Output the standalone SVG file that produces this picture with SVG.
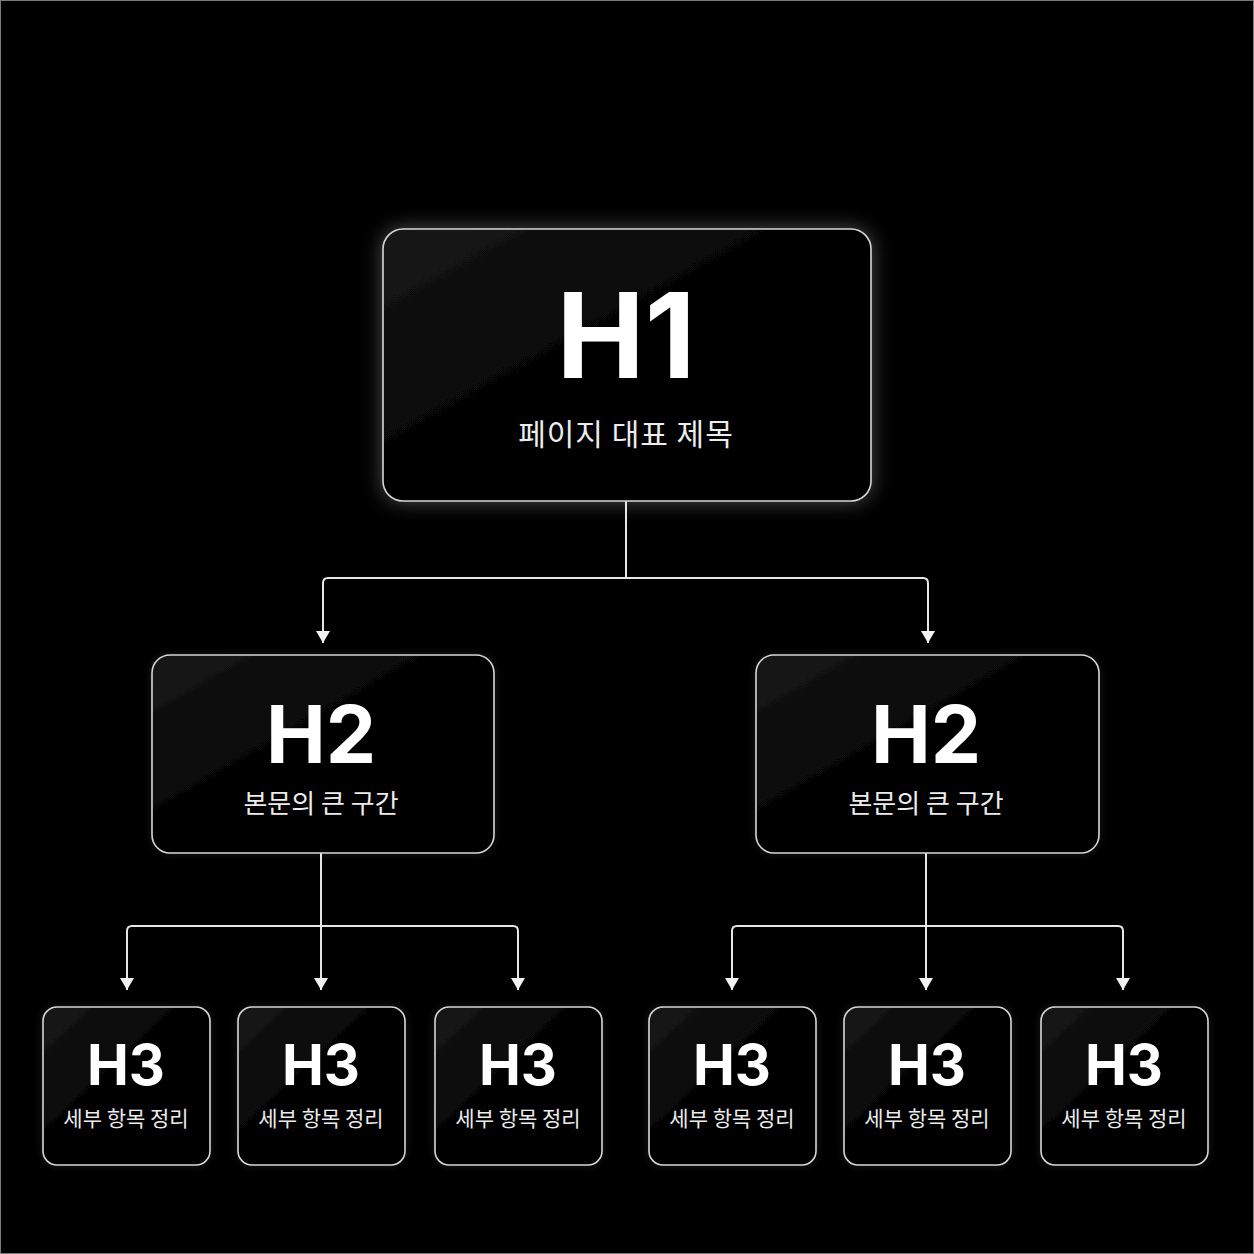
<svg xmlns="http://www.w3.org/2000/svg" width="1254" height="1254" viewBox="0 0 1254 1254">
  <defs>
    <style>
      .box { stroke: #d6d6d6; stroke-width: 1.6; }
      .h { font-family: Inter, "Liberation Sans", sans-serif; font-weight: 700; fill: #ffffff; text-anchor: middle; }
      .sub { font-family: "Noto Sans CJK KR", "Noto Sans", sans-serif; font-weight: 400; fill: #ececec; text-anchor: middle; }
      .conn { fill: none; stroke: #e6e6e6; stroke-width: 2; }
    </style>
    <linearGradient id="boxFill" x1="0" y1="0" x2="1" y2="1">
      <stop offset="0" stop-color="#181818"/>
      <stop offset="0.4" stop-color="#060606"/>
      <stop offset="1" stop-color="#020202"/>
    </linearGradient>
    <filter id="glow" x="-20%" y="-30%" width="140%" height="160%">
      <feGaussianBlur in="SourceAlpha" stdDeviation="10" result="b"/>
      <feFlood flood-color="#ffffff" flood-opacity="0.3"/>
      <feComposite in2="b" operator="in" result="g"/>
      <feMerge><feMergeNode in="g"/><feMergeNode in="SourceGraphic"/></feMerge>
    </filter>
    <filter id="softglow" x="-20%" y="-20%" width="140%" height="140%">
      <feGaussianBlur in="SourceAlpha" stdDeviation="4" result="b"/>
      <feFlood flood-color="#ffffff" flood-opacity="0.1"/>
      <feComposite in2="b" operator="in" result="g"/>
      <feMerge><feMergeNode in="g"/><feMergeNode in="SourceGraphic"/></feMerge>
    </filter>
    <marker id="arrow" viewBox="0 0 12 14" refX="12" refY="7" markerWidth="12" markerHeight="14" markerUnits="userSpaceOnUse" orient="auto">
      <path d="M0,0 L12,7 L0,14 Z" fill="#f2f2f2"/>
    </marker>
  </defs>

  <rect x="0" y="0" width="1254" height="1254" fill="#000000"/>
  <rect x="0.5" y="0.5" width="1253" height="1253" fill="none" stroke="#7a7a7a" stroke-width="1"/>

  <g id="connectors">
    <path class="conn" d="M626,501 V578"/>
    <path class="conn" d="M626,578 H328 Q323,578 323,583 V643" marker-end="url(#arrow)"/>
    <path class="conn" d="M626,578 H923 Q928,578 928,583 V643" marker-end="url(#arrow)"/>

    <path class="conn" d="M321,853 V990" marker-end="url(#arrow)"/>
    <path class="conn" d="M321,926 H132 Q127,926 127,931 V990" marker-end="url(#arrow)"/>
    <path class="conn" d="M321,926 H513 Q518,926 518,931 V990" marker-end="url(#arrow)"/>

    <path class="conn" d="M926,853 V990" marker-end="url(#arrow)"/>
    <path class="conn" d="M926,926 H737 Q732,926 732,931 V990" marker-end="url(#arrow)"/>
    <path class="conn" d="M926,926 H1118 Q1123,926 1123,931 V990" marker-end="url(#arrow)"/>
  </g>

  <g id="h1">
    <rect class="box" x="383" y="229" width="488" height="272" rx="20" fill="url(#boxFill)" stroke="#eeeeee" stroke-width="2" filter="url(#glow)"/>
    <text class="h" x="626" y="378" font-size="118">H1</text>
    <text class="sub" x="626" y="445" font-size="30" letter-spacing="1">페이지 대표 제목</text>
  </g>

  <g id="h2-left">
    <rect class="box" x="152" y="655" width="342" height="198" rx="18" fill="url(#boxFill)" filter="url(#softglow)"/>
    <text class="h" x="321" y="763" font-size="80">H2</text>
    <text class="sub" x="321" y="813" font-size="26">본문의 큰 구간</text>
  </g>

  <g id="h2-right">
    <rect class="box" x="756" y="655" width="343" height="198" rx="18" fill="url(#boxFill)" filter="url(#softglow)"/>
    <text class="h" x="926" y="763" font-size="80">H2</text>
    <text class="sub" x="926" y="813" font-size="26">본문의 큰 구간</text>
  </g>

  <g id="h3-1">
    <rect class="box" x="43" y="1007" width="167" height="158" rx="14" fill="url(#boxFill)" filter="url(#softglow)"/>
    <text class="h" x="126" y="1085" font-size="56">H3</text>
    <text class="sub" x="126" y="1126" font-size="21">세부 항목 정리</text>
  </g>
  <g id="h3-2">
    <rect class="box" x="238" y="1007" width="167" height="158" rx="14" fill="url(#boxFill)" filter="url(#softglow)"/>
    <text class="h" x="321" y="1085" font-size="56">H3</text>
    <text class="sub" x="321" y="1126" font-size="21">세부 항목 정리</text>
  </g>
  <g id="h3-3">
    <rect class="box" x="435" y="1007" width="167" height="158" rx="14" fill="url(#boxFill)" filter="url(#softglow)"/>
    <text class="h" x="518" y="1085" font-size="56">H3</text>
    <text class="sub" x="518" y="1126" font-size="21">세부 항목 정리</text>
  </g>
  <g id="h3-4">
    <rect class="box" x="649" y="1007" width="167" height="158" rx="14" fill="url(#boxFill)" filter="url(#softglow)"/>
    <text class="h" x="732" y="1085" font-size="56">H3</text>
    <text class="sub" x="732" y="1126" font-size="21">세부 항목 정리</text>
  </g>
  <g id="h3-5">
    <rect class="box" x="844" y="1007" width="167" height="158" rx="14" fill="url(#boxFill)" filter="url(#softglow)"/>
    <text class="h" x="927" y="1085" font-size="56">H3</text>
    <text class="sub" x="927" y="1126" font-size="21">세부 항목 정리</text>
  </g>
  <g id="h3-6">
    <rect class="box" x="1041" y="1007" width="167" height="158" rx="14" fill="url(#boxFill)" filter="url(#softglow)"/>
    <text class="h" x="1124" y="1085" font-size="56">H3</text>
    <text class="sub" x="1124" y="1126" font-size="21">세부 항목 정리</text>
  </g>
</svg>
